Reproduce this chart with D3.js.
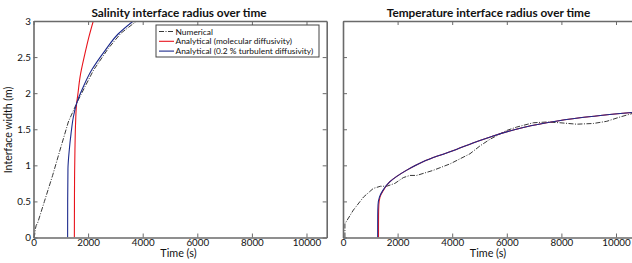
<!DOCTYPE html>
<html>
<head>
<meta charset="utf-8">
<script src="https://cdn.jsdelivr.net/npm/d3@7"></script>
<style>
  body { margin: 0; background: #fff; }
  svg { display: block; font-family: Lato, "Open Sans", sans-serif; }
</style>
</head>
<body>
<svg id="chart" width="632" height="263"></svg>
<script>
// values, [time (s), width (m)]
const timeTicks = [0, 2000, 4000, 6000, 8000, 10000];
const widthTicks = [0, 0.5, 1, 1.5, 2, 2.5, 3];
const widthTickLabels = ["0", "0.5", "1", "1.5", "2", "2.5", "3"];

const salNumerical = [[0, 0], [40, 0.03], [70, 0.12], [100, 0.17], [150, 0.2], [400, 0.5], [700, 0.86],
  [970, 1.21], [1275, 1.6], [1580, 1.86], [1886, 2.09], [2200, 2.32], [2740, 2.62], [3200, 2.83],
  [3780, 3.0], [10800, 3.0]];
const salMolecular = [[1497, 0], [1500, 0.5], [1506, 0.9], [1518, 1.21], [1543, 1.6], [1580, 1.86],
  [1620, 1.97], [1703, 2.22], [1886, 2.55], [2030, 2.78], [2190, 3.0]];
const salTurbulent = [[1250, 0], [1252, 0.5], [1262, 0.95], [1310, 1.21], [1375, 1.44], [1460, 1.67],
  [1580, 1.86], [1825, 2.09], [2130, 2.32], [2620, 2.59], [3100, 2.82], [3655, 3.0]];

const tempNumerical = [[70, 0], [70, 0.19], [380, 0.38], [750, 0.56], [1110, 0.68], [1370, 0.71],
  [1600, 0.71], [1900, 0.75], [2210, 0.83], [2450, 0.86], [2700, 0.86], [3300, 0.93], [3920, 1.02],
  [4650, 1.16], [5020, 1.27], [5380, 1.36], [5970, 1.48], [6360, 1.53], [6970, 1.59], [7460, 1.6],
  [7950, 1.59], [8560, 1.57], [9170, 1.58], [9660, 1.61], [10150, 1.67], [10800, 1.74]];
const tempMolecular = [[1300, 0], [1302, 0.3], [1312, 0.45], [1355, 0.56], [1470, 0.65], [1710, 0.77],
  [2320, 0.93], [2930, 1.05], [3550, 1.14], [4150, 1.22], [4760, 1.31], [5370, 1.39], [6240, 1.49],
  [7460, 1.59], [8680, 1.66], [10800, 1.74]];
const tempTurbulent = [[1270, 0], [1272, 0.3], [1283, 0.45], [1335, 0.56], [1455, 0.65], [1710, 0.77],
  [2320, 0.93], [2930, 1.05], [3550, 1.14], [4150, 1.22], [4760, 1.31], [5370, 1.39], [6240, 1.49],
  [7460, 1.59], [8680, 1.66], [10800, 1.74]];

const legendLabels = ["Numerical", "Analytical (molecular diffusivity)", "Analytical (0.2 % turbulent diffusivity)"];

const svg = d3.select("#chart");
const height = 216.5;
const panelWidth = 293.2;
const axisColor = "#6a6a6a";

function drawPanel(left, top, title, series, showYLabels, showLegend) {
    const g = svg.append("g").attr("transform", `translate(${left}, ${top})`);
    const x = d3.scaleLinear().domain([0, 10740]).range([0, panelWidth]);
    const y = d3.scaleLinear().domain([0, 3]).range([height, 0]);

    const clipId = "clip" + Math.round(left);
    g.append("clipPath").attr("id", clipId)
        .append("rect").attr("width", panelWidth).attr("height", height);

    const plot = g.append("g").attr("clip-path", `url(#${clipId})`);
    const line = d3.line().x(d => x(d[0])).y(d => y(d[1]));
    const smooth = d3.line().x(d => x(d[0])).y(d => y(d[1])).curve(d3.curveMonotoneY);
    const styles = [
        { stroke: "#222", dash: "5,1.5,1,1.5", w: 0.9 },
        { stroke: "#e8141c", dash: null, w: 1.1 },
        { stroke: "#1c2a8c", dash: null, w: 1.1 }
    ];
    series.forEach((s, i) => {
        plot.append("path")
            .datum(s)
            .attr("fill", "none")
            .attr("stroke", styles[i].stroke)
            .attr("stroke-width", styles[i].w)
            .attr("stroke-dasharray", styles[i].dash)
            .attr("d", i === 0 ? line : smooth);
    });

    // box axes with inward ticks, MATLAB style
    const tl = 4;
    g.append("g").attr("transform", `translate(0, ${height})`)
        .call(d3.axisBottom(x).tickValues(timeTicks).tickSizeInner(-tl).tickSizeOuter(0).tickPadding(2).tickFormat(d3.format("d")));
    g.append("g")
        .call(d3.axisTop(x).tickValues(timeTicks).tickSizeInner(-tl).tickSizeOuter(0).tickFormat(""));
    g.append("g")
        .call(d3.axisLeft(y).tickValues(widthTicks).tickSizeInner(-tl).tickSizeOuter(0).tickPadding(2.5)
            .tickFormat((d, i) => showYLabels ? widthTickLabels[i] : ""));
    g.append("g").attr("transform", `translate(${panelWidth}, 0)`)
        .call(d3.axisRight(y).tickValues(widthTicks).tickSizeInner(-tl).tickSizeOuter(0).tickFormat(""));

    g.selectAll(".domain").attr("stroke", axisColor).attr("stroke-width", 1.6);
    g.selectAll(".tick line").attr("stroke", axisColor).attr("stroke-width", 1);
    g.selectAll(".tick text").attr("font-family", "Lato, sans-serif").attr("font-size", 9.8).attr("fill", "#111");

    svg.append("text")
        .attr("x", left + 145.5).attr("y", 16.5)
        .attr("text-anchor", "middle")
        .attr("font-size", 11.8).attr("font-weight", "bold").attr("fill", "#111")
        .text(title);

    svg.append("text")
        .attr("x", left + 145).attr("y", 257)
        .attr("text-anchor", "middle")
        .attr("font-size", 10.8).attr("fill", "#111")
        .text("Time (s)");

    if (showLegend) {
        const lg = g.append("g").attr("transform", `translate(${122.5}, ${4})`);
        lg.append("rect").attr("width", 163).attr("height", 32)
            .attr("fill", "#fff").attr("stroke", "#444").attr("stroke-width", 1);
        legendLabels.forEach((lab, i) => {
            const cy = 6.5 + i * 9.8;
            lg.append("line").attr("x1", 3).attr("x2", 18).attr("y1", cy).attr("y2", cy)
                .attr("stroke", styles[i].stroke).attr("stroke-width", styles[i].w)
                .attr("stroke-dasharray", styles[i].dash);
            lg.append("text").attr("x", 19.5).attr("y", cy + 3)
                .attr("font-size", 8.4).attr("fill", "#111").text(lab);
        });
    }
}

drawPanel(33.5, 21, "Salinity interface radius over time",
    [salNumerical, salMolecular, salTurbulent], true, true);
drawPanel(343, 21, "Temperature interface radius over time",
    [tempNumerical, tempMolecular, tempTurbulent], false, false);

svg.append("text")
    .attr("transform", "translate(12, 130) rotate(-90)")
    .attr("text-anchor", "middle")
    .attr("font-size", 10.5).attr("fill", "#111")
    .text("Interface width (m)");
</script>
</body>
</html>
